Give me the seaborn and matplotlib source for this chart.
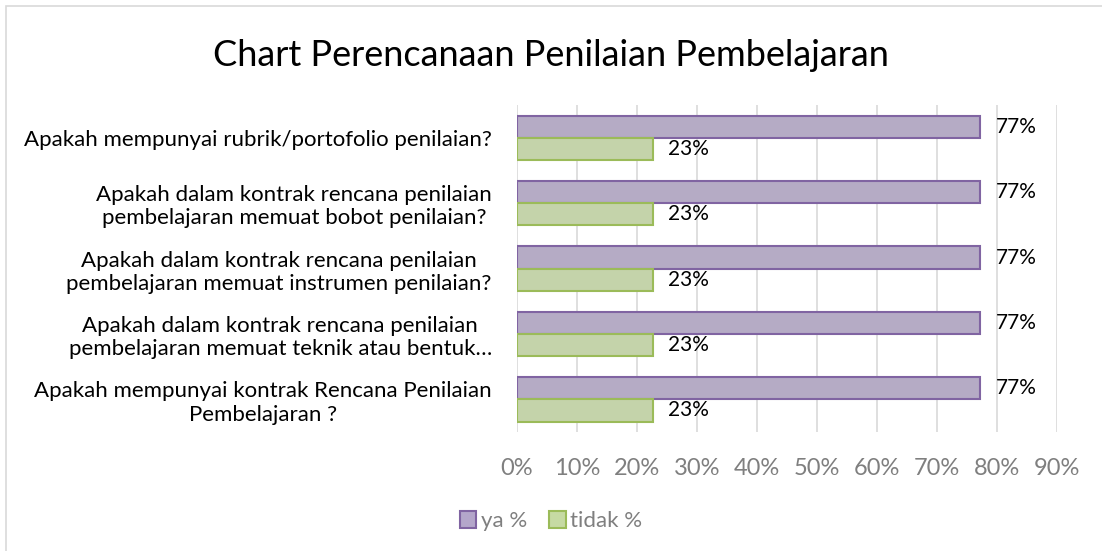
import matplotlib
matplotlib.use("Agg")
import matplotlib.pyplot as plt
import seaborn as sns
import pandas as pd
from matplotlib.patches import Rectangle

questions = [
    "Apakah mempunyai rubrik/portofolio penilaian?",
    "Apakah dalam kontrak rencana penilaian\npembelajaran memuat bobot penilaian?",
    "Apakah dalam kontrak rencana penilaian\npembelajaran memuat instrumen penilaian?",
    "Apakah dalam kontrak rencana penilaian\npembelajaran memuat teknik atau bentuk\u2026",
    "Apakah mempunyai kontrak Rencana Penilaian\nPembelajaran ?",
]
ya_pct = [77.27, 77.27, 77.27, 77.27, 77.27]
tidak_pct = [22.73, 22.73, 22.73, 22.73, 22.73]
series = ["ya %", "tidak %"]

fill_colors = ["#B4A6CA", "#C6DAA3"]
edge_colors = ["#8064A2", "#9BBB59"]

df = pd.DataFrame({
    "question": questions * 2,
    "value": ya_pct + tidak_pct,
    "series": [series[0]] * len(questions) + [series[1]] * len(questions),
})

sns.set_style("white")
plt.rcParams["font.family"] = ["Lato", "DejaVu Sans"]
plt.rcParams["text.color"] = "black"

fig = plt.figure(figsize=(11.02, 5.51), dpi=100)
ax = fig.add_axes([0.469, 0.216, 0.49, 0.593])

sns.barplot(data=df, x="value", y="question", hue="series", orient="h",
            palette=fill_colors, width=0.68, ax=ax, legend=False)

# edge colours per series
for container, ec in zip(ax.containers, edge_colors):
    for bar in container:
        bar.set_edgecolor(ec)
        bar.set_linewidth(1.5)
    ax.bar_label(container, labels=[f"{v:.0f}%" for v in container.datavalues],
                 padding=11, fontsize=15, color="black")

ax.set_xlim(0, 90)
ax.set_xticks(range(0, 91, 10))
ax.set_xticklabels([f"{t}%" for t in range(0, 91, 10)], fontsize=17, color="#7F7F7F")
ax.tick_params(axis="x", length=0, pad=19)
ax.tick_params(axis="y", length=0, pad=18, labelsize=16, labelcolor="black")
for lbl in ax.get_yticklabels():
    lbl.set_horizontalalignment("right")
    lbl.set_multialignment("center")
    lbl.set_linespacing(1.2)
ax.xaxis.grid(True, color="#D9D9D9", linewidth=1.2)
ax.set_axisbelow(True)
for s in ax.spines.values():
    s.set_visible(False)
ax.set_xlabel("")
ax.set_ylabel("")

fig.suptitle("Chart Perencanaan Penilaian Pembelajaran", fontsize=26, y=0.93,
             color="black")

handles = [Rectangle((0, 0), 1, 1, facecolor=fc, edgecolor=ec, linewidth=1.5)
           for fc, ec in zip(fill_colors, edge_colors)]
leg = fig.legend(handles, series, loc="center", bbox_to_anchor=(0.5, 0.054),
                 ncol=2, frameon=False, fontsize=16, handlelength=0.75,
                 handleheight=0.75, handletextpad=0.2, columnspacing=1.0)
for t in leg.get_texts():
    t.set_color("#7F7F7F")

fig.patches.append(Rectangle((0.0055, -0.01), 1.0, 0.999, transform=fig.transFigure,
                             fill=False, edgecolor="#D9D9D9", linewidth=1.2))

fig.savefig("out.png", dpi=100)
